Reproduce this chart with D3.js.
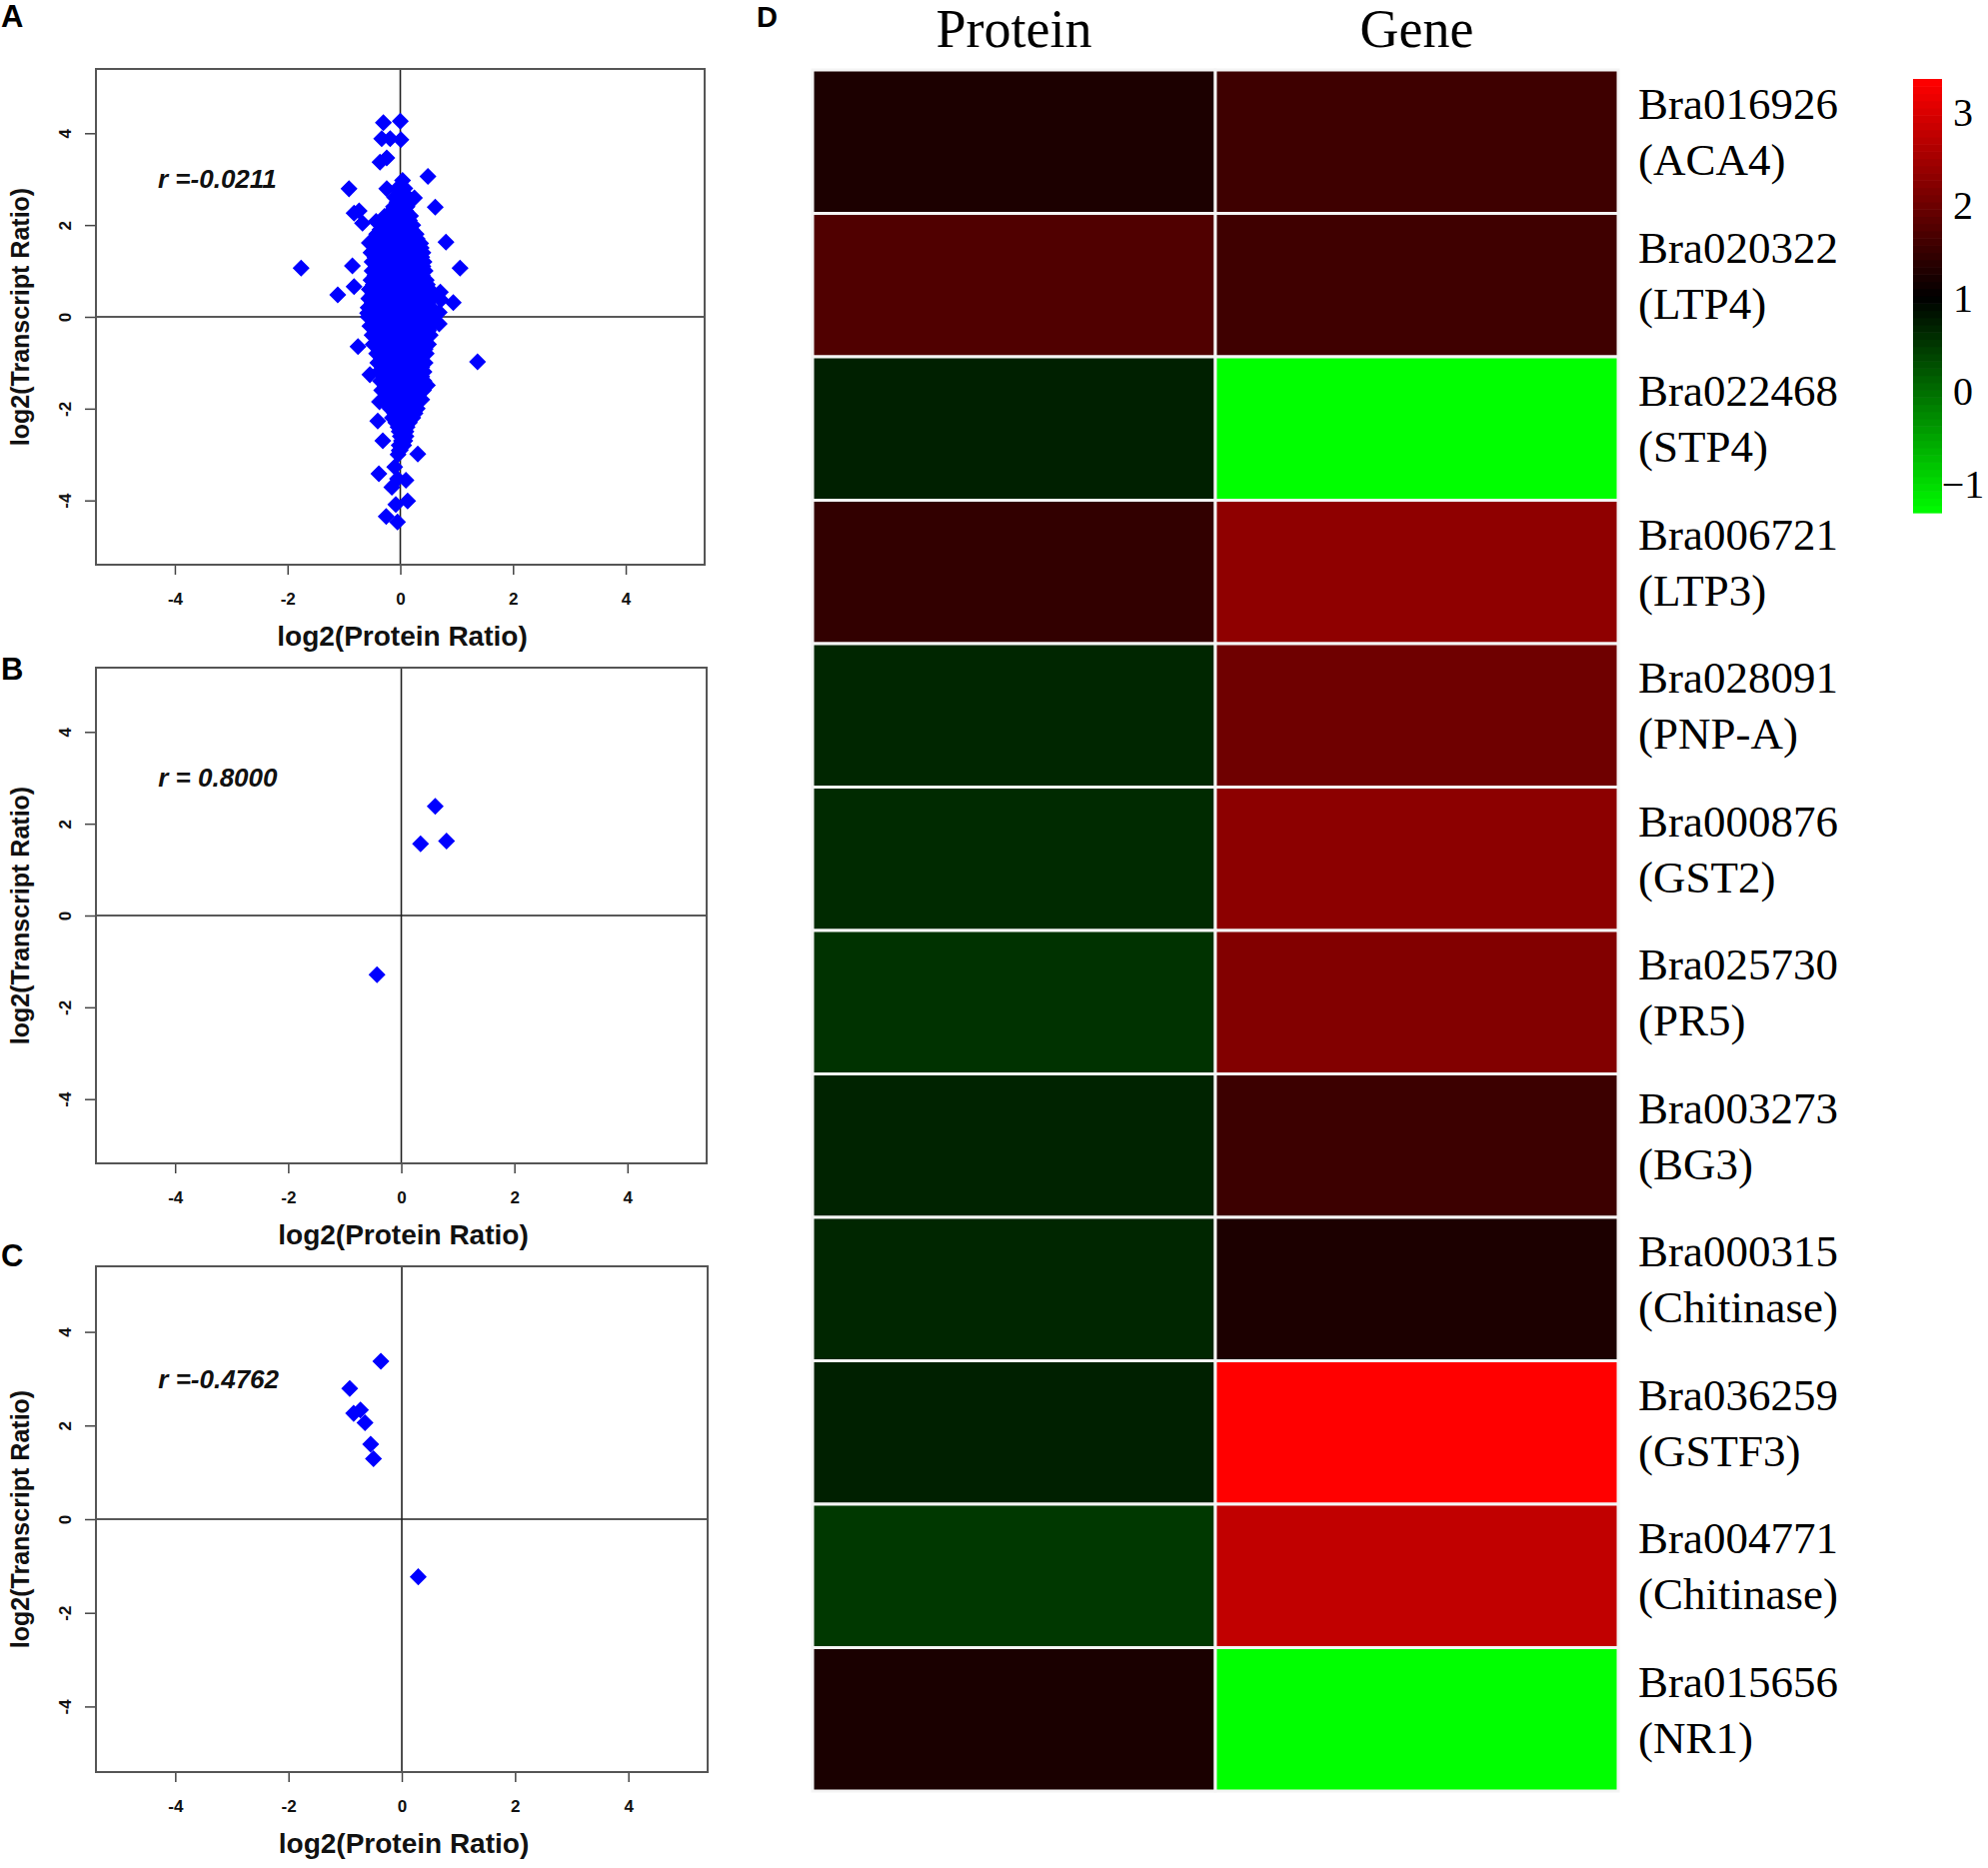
<!DOCTYPE html>
<html>
<head>
<meta charset="utf-8">
<script src="https://cdn.jsdelivr.net/npm/d3@7"></script>
<style>
  body { margin: 0; background: #fff; }
  .sans { font-family: "Liberation Sans", Arial, sans-serif; }
  .serif { font-family: "Liberation Serif", "Times New Roman", serif; }
</style>
</head>
<body>
<svg id="fig" width="1989" height="1869"></svg>
<script>
// ---- data ----

// panel A: dense core, one row per transcript level: [y, [protein x values]]
const aRows = [
  [2.8, [-0.05, 0.08]],
  [2.6, [-0.1, 0.02, 0.14]],
  [2.4, [-0.12, 0.0, 0.12]],
  [2.2, [-0.2, -0.06, 0.08, 0.18]],
  [2.0, [-0.3, -0.16, -0.02, 0.12, 0.22]],
  [1.8, [-0.42, -0.28, -0.14, 0.0, 0.14, 0.28]],
  [1.6, [-0.52, -0.38, -0.24, -0.1, 0.04, 0.18, 0.32, 0.36]],
  [1.4, [-0.52, -0.38, -0.24, -0.1, 0.04, 0.18, 0.32, 0.4]],
  [1.2, [-0.5, -0.36, -0.22, -0.08, 0.06, 0.2, 0.34, 0.42]],
  [1.0, [-0.5, -0.36, -0.22, -0.08, 0.06, 0.2, 0.34, 0.44]],
  [0.8, [-0.52, -0.38, -0.24, -0.1, 0.04, 0.18, 0.32, 0.46]],
  [0.6, [-0.55, -0.41, -0.27, -0.13, 0.01, 0.15, 0.29, 0.43, 0.52]],
  [0.4, [-0.56, -0.42, -0.28, -0.14, 0.0, 0.14, 0.28, 0.42, 0.55]],
  [0.2, [-0.57, -0.43, -0.29, -0.15, -0.01, 0.13, 0.27, 0.41, 0.55]],
  [0.0, [-0.57, -0.43, -0.29, -0.15, -0.01, 0.13, 0.27, 0.41, 0.55, 0.6]],
  [-0.2, [-0.54, -0.4, -0.26, -0.12, 0.02, 0.16, 0.3, 0.44, 0.55]],
  [-0.4, [-0.5, -0.36, -0.22, -0.08, 0.06, 0.2, 0.34, 0.48, 0.53]],
  [-0.6, [-0.48, -0.34, -0.2, -0.06, 0.08, 0.22, 0.36, 0.5]],
  [-0.8, [-0.42, -0.28, -0.14, 0.0, 0.14, 0.28, 0.42, 0.46]],
  [-1.0, [-0.4, -0.26, -0.12, 0.02, 0.16, 0.3, 0.44]],
  [-1.2, [-0.38, -0.24, -0.1, 0.04, 0.18, 0.32, 0.42]],
  [-1.4, [-0.35, -0.21, -0.07, 0.07, 0.21, 0.35, 0.42]],
  [-1.6, [-0.33, -0.19, -0.05, 0.09, 0.23, 0.37, 0.41]],
  [-1.8, [-0.3, -0.16, -0.02, 0.12, 0.26, 0.38]],
  [-2.0, [-0.18, -0.05, 0.09, 0.22, 0.3]],
  [-2.2, [-0.14, 0.0, 0.14, 0.22]],
  [-2.4, [-0.04, 0.08, 0.12]],
  [-2.6, [0.0, 0.1]],
  [-2.8, [-0.02, 0.06]],
  [-3.0, [-0.04]]
];
// panel A: the in-between levels of the same core
const aRowsMid = [
  [2.7, [-0.02, 0.06]],
  [2.5, [-0.06, 0.06]],
  [2.3, [-0.16, -0.04, 0.1]],
  [2.1, [-0.24, -0.1, 0.04, 0.16]],
  [1.9, [-0.36, -0.22, -0.08, 0.06, 0.2]],
  [1.7, [-0.45, -0.31, -0.17, -0.03, 0.11, 0.25, 0.3]],
  [1.5, [-0.45, -0.31, -0.17, -0.03, 0.11, 0.25, 0.37]],
  [1.3, [-0.45, -0.31, -0.17, -0.03, 0.11, 0.25, 0.38]],
  [1.1, [-0.43, -0.29, -0.15, -0.01, 0.13, 0.27, 0.4]],
  [0.9, [-0.45, -0.31, -0.17, -0.03, 0.11, 0.25, 0.39]],
  [0.7, [-0.48, -0.34, -0.2, -0.06, 0.08, 0.22, 0.36, 0.48]],
  [0.5, [-0.49, -0.35, -0.21, -0.07, 0.07, 0.21, 0.35, 0.49]],
  [0.3, [-0.5, -0.36, -0.22, -0.08, 0.06, 0.2, 0.34, 0.48]],
  [0.1, [-0.5, -0.36, -0.22, -0.08, 0.06, 0.2, 0.34, 0.48]],
  [-0.1, [-0.47, -0.33, -0.19, -0.05, 0.09, 0.23, 0.37, 0.5]],
  [-0.3, [-0.43, -0.29, -0.15, -0.01, 0.13, 0.27, 0.41, 0.5]],
  [-0.5, [-0.41, -0.27, -0.13, 0.01, 0.15, 0.29, 0.43]],
  [-0.7, [-0.38, -0.24, -0.1, 0.04, 0.18, 0.32, 0.44]],
  [-0.9, [-0.33, -0.19, -0.05, 0.09, 0.23, 0.37]],
  [-1.1, [-0.31, -0.17, -0.03, 0.11, 0.25, 0.38]],
  [-1.3, [-0.3, -0.16, -0.02, 0.12, 0.26, 0.38]],
  [-1.5, [-0.27, -0.13, 0.01, 0.15, 0.29, 0.4]],
  [-1.7, [-0.24, -0.1, 0.04, 0.18, 0.32]],
  [-1.9, [-0.24, -0.1, 0.04, 0.16, 0.28]],
  [-2.1, [-0.1, 0.02, 0.16, 0.26]],
  [-2.3, [-0.08, 0.04, 0.16]],
  [-2.5, [-0.02, 0.1]],
  [-2.7, [0.02, 0.08]],
  [-2.9, [0.0]]
];
// panel A: scattered points outside the core [protein, transcript]
const aOutliers = [
  [-0.30, 4.23], [0.00, 4.26], [-0.33, 3.88], [-0.18, 3.88], [0.01, 3.86],
  [-0.36, 3.37], [-0.24, 3.46], [0.49, 3.06], [-0.91, 2.79], [-0.24, 2.79],
  [0.04, 2.97], [0.25, 2.59], [0.62, 2.39], [-0.82, 2.26], [-0.73, 2.31],
  [-0.67, 2.04], [-0.43, 2.08], [-0.28, 2.19], [0.81, 1.63], [-1.76, 1.06],
  [-0.85, 1.11], [1.06, 1.06], [-1.11, 0.48], [-0.82, 0.66], [0.72, 0.37],
  [0.94, 0.31], [0.69, 0.10], [-0.55, 1.61], [-0.75, -0.65], [1.37, -0.98],
  [-0.37, -1.85], [-0.40, -2.27], [-0.31, -2.70], [0.31, -2.99], [-0.38, -3.42],
  [0.10, -3.56], [-0.08, -4.09], [0.13, -4.01], [-0.25, -4.35], [-0.05, -4.47],
  [-0.15, -3.71], [-0.02, -2.91], [-0.10, -3.27], [-0.05, -3.53], [0.48, -1.49],
  [0.69, -0.15], [0.71, 0.54], [-0.54, -1.26], [-0.58, 0.08]
];
const bPoints = [[0.60, 2.38], [0.34, 1.56], [0.80, 1.62], [-0.43, -1.29]];
const cPoints = [[-0.37, 3.37], [-0.92, 2.79], [-0.73, 2.33], [-0.85, 2.26],
                 [-0.65, 2.06], [-0.55, 1.60], [-0.50, 1.29], [0.29, -1.23]];
const rLabels = ["r =-0.0211", "r = 0.8000", "r =-0.4762"];
const panelTags = ["A", "B", "C"];
const axisTicks = [-4, -2, 0, 2, 4];

// panel D heatmap
const geneIds = ["Bra016926", "Bra020322", "Bra022468", "Bra006721", "Bra028091", "Bra000876",
                 "Bra025730", "Bra003273", "Bra000315", "Bra036259", "Bra004771", "Bra015656"];
const geneNames = ["(ACA4)", "(LTP4)", "(STP4)", "(LTP3)", "(PNP-A)", "(GST2)",
                   "(PR5)", "(BG3)", "(Chitinase)", "(GSTF3)", "(Chitinase)", "(NR1)"];
const proteinVals = [1.26, 1.73, 0.71, 1.46, 0.65, 0.62, 0.54, 0.68, 0.65, 0.71, 0.49, 1.24];
const geneVals = [1.57, 1.58, -1.33, 2.31, 2.01, 2.28, 2.19, 1.55, 1.26, 3.33, 2.76, -1.33];
const heatCols = ["Protein", "Gene"];
const barTicks = [3, 2, 1, 0, -1];

// ---- drawing ----
const svg = d3.select("#fig");
svg.append("rect").attr("width", 1989).attr("height", 1869).attr("fill", "#fff");

const aPoints = [];
aRows.concat(aRowsMid).forEach(r => r[1].forEach(x => aPoints.push([x, r[0]])));
aOutliers.forEach(p => aPoints.push(p));

const boxes = [
  {x0: 96, x1: 705, y0: 69, y1: 565, tagY: 27},
  {x0: 96, x1: 707, y0: 668, y1: 1164, tagY: 680},
  {x0: 96, x1: 708, y0: 1267, y1: 1773, tagY: 1267}
];
const panelPts = [aPoints, bPoints, cPoints];

const diamond = d3.symbol().type(d3.symbolSquare).size(145);

boxes.forEach((b, i) => {
  const g = svg.append("g").attr("class", "sans");
  const x = d3.scaleLinear().domain([-5.4, 5.4]).range([b.x0, b.x1]);
  const y = d3.scaleLinear().domain([-5.4, 5.4]).range([b.y1, b.y0]);

  // x axis
  const xa = g.append("g").attr("transform", `translate(0,${b.y1})`)
    .call(d3.axisBottom(x).tickValues(axisTicks).tickSize(10).tickSizeOuter(0).tickFormat(d => String(d)));
  xa.select(".domain").remove();
  xa.selectAll("line").attr("stroke", "#444").attr("stroke-width", 1.5);
  xa.selectAll("text").attr("y", 34).attr("dy", "0.35em")
    .attr("font-size", 17).attr("font-weight", "bold").attr("fill", "#111");

  // y axis, labels turned to read upward
  const ya = g.append("g").attr("transform", `translate(${b.x0},0)`)
    .call(d3.axisLeft(y).tickValues(axisTicks).tickSize(11).tickSizeOuter(0).tickFormat(d => String(d)));
  ya.select(".domain").remove();
  ya.selectAll("line").attr("stroke", "#444").attr("stroke-width", 1.5);
  ya.selectAll("text").attr("x", null).attr("dy", null)
    .attr("transform", "translate(-31,0) rotate(-90)")
    .attr("text-anchor", "middle").attr("dominant-baseline", "central")
    .attr("font-size", 17).attr("font-weight", "bold").attr("fill", "#111");

  // zero lines
  g.append("line").attr("x1", b.x0).attr("x2", b.x1).attr("y1", y(0)).attr("y2", y(0))
    .attr("stroke", "#222").attr("stroke-width", 1.6);
  g.append("line").attr("x1", x(0)).attr("x2", x(0)).attr("y1", b.y0).attr("y2", b.y1)
    .attr("stroke", "#222").attr("stroke-width", 1.6);

  // points
  g.append("g").selectAll("path").data(panelPts[i]).join("path")
    .attr("d", diamond)
    .attr("transform", d => `translate(${x(d[0])},${y(d[1])}) rotate(45)`)
    .attr("fill", "#0000ff");

  // frame
  g.append("rect").attr("x", b.x0).attr("y", b.y0)
    .attr("width", b.x1 - b.x0).attr("height", b.y1 - b.y0)
    .attr("fill", "none").attr("stroke", "#555").attr("stroke-width", 2);

  // correlation text
  g.append("text").attr("x", x(-4.3)).attr("y", y(3)).attr("dy", "0.35em")
    .attr("font-size", 26).attr("font-weight", "bold").attr("font-style", "italic")
    .attr("fill", "#111").text(rLabels[i]);

  // axis titles
  g.append("text").attr("x", (b.x0 + b.x1) / 2 + 2).attr("y", b.y1 + 71).attr("dy", "0.35em")
    .attr("text-anchor", "middle").attr("font-size", 28).attr("font-weight", "bold")
    .attr("fill", "#111").text("log2(Protein Ratio)");
  g.append("text")
    .attr("transform", `translate(20,${(b.y0 + b.y1) / 2}) rotate(-90)`)
    .attr("text-anchor", "middle").attr("dominant-baseline", "central")
    .attr("font-size", 25).attr("font-weight", "bold")
    .attr("fill", "#111").text("log2(Transcript Ratio)");

  // panel letter
  g.append("text").attr("x", 1).attr("y", b.tagY)
    .attr("font-size", 31).attr("font-weight", "bold").attr("fill", "#000").text(panelTags[i]);
});

// ---- panel D ----
const hm = svg.append("g");
const color = d3.scaleLinear().domain([-1.33, 1, 3.33]).range(["#00ff00", "#000000", "#ff0000"]);
const xb = d3.scaleBand().domain(heatCols).range([813, 1619]);
const yb = d3.scaleBand().domain(geneIds).range([70, 1792]);

const cells = [];
geneIds.forEach((id, i) => {
  cells.push({col: "Protein", id: id, v: proteinVals[i]});
  cells.push({col: "Gene", id: id, v: geneVals[i]});
});
hm.selectAll("rect.cell").data(cells).join("rect").attr("class", "cell")
  .attr("x", d => xb(d.col)).attr("y", d => yb(d.id))
  .attr("width", xb.bandwidth()).attr("height", yb.bandwidth())
  .attr("fill", d => color(d.v))
  .attr("stroke", "#f4f4f4").attr("stroke-width", 3);

hm.selectAll("text.head").data(heatCols).join("text").attr("class", "head serif")
  .attr("x", d => xb(d) + xb.bandwidth() / 2).attr("y", 47)
  .attr("text-anchor", "middle").attr("font-size", 54).attr("fill", "#000").text(d => d);

const labs = hm.selectAll("g.lab").data(geneIds).join("g").attr("class", "lab serif")
  .attr("transform", d => `translate(1639,${yb(d)})`);
labs.append("text").attr("y", 49).attr("font-size", 45).attr("fill", "#000").text(d => d);
labs.append("text").attr("y", 105).attr("font-size", 45).attr("fill", "#000")
  .text((d, i) => geneNames[i]);

svg.append("text").attr("class", "sans").attr("x", 757).attr("y", 27)
  .attr("font-size", 29).attr("font-weight", "bold").text("D");

// colour key
const by = d3.scaleLinear().domain([-1.31, 3.35]).range([513, 79]);
const steps = d3.range(60).map(k => -1.31 + (k + 0.5) * (3.35 + 1.31) / 60);
const stepH = (513 - 79) / 60;
svg.append("g").selectAll("rect").data(steps).join("rect")
  .attr("x", 1914).attr("width", 29)
  .attr("y", d => by(d) - stepH / 2).attr("height", stepH + 0.6)
  .attr("fill", d => color(d));
svg.append("g").attr("class", "serif").selectAll("text").data(barTicks).join("text")
  .attr("x", 1964).attr("y", d => by(d)).attr("dy", "0.35em")
  .attr("text-anchor", "middle").attr("font-size", 40).attr("fill", "#000")
  .text(d => d < 0 ? "\u2212" + Math.abs(d) : String(d));
</script>
</body>
</html>
